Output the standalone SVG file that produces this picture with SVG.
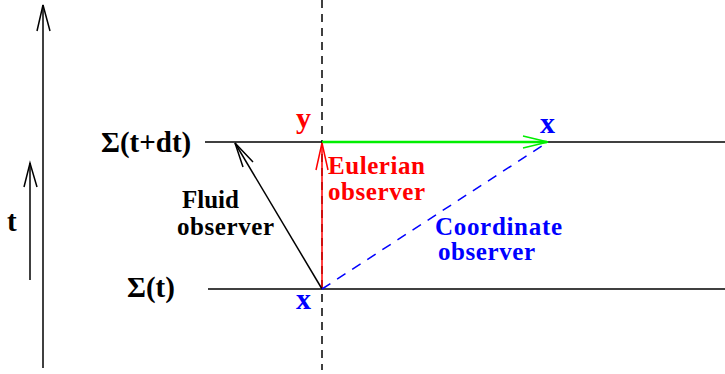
<svg xmlns="http://www.w3.org/2000/svg" width="725" height="374" viewBox="0 0 725 374">
<style>
text{font-family:"Liberation Serif","Times New Roman",serif;font-weight:bold;}
.big{font-size:29px;}
.lbl{font-size:25px;}
.xy{font-size:30px;}
.ln{fill:none;stroke-width:1.5;}
</style>
<rect width="725" height="374" fill="#fff"/>
<g id="connectors">
<line class="ln" x1="43" y1="368" x2="43" y2="5" stroke="#000"/>
<polyline class="ln" points="37,31 43,5 50,31" stroke="#000"/>
<line class="ln" x1="30" y1="280" x2="30" y2="163" stroke="#000"/>
<polyline class="ln" points="24,187 30,163 37,187" stroke="#000"/>
<line x1="322" y1="0" x2="322" y2="370" stroke="#000" stroke-width="1.5" stroke-dasharray="8,6"/>
<line class="ln" x1="205" y1="142" x2="725" y2="142" stroke="#000"/>
<line class="ln" x1="208" y1="289" x2="725" y2="289" stroke="#000"/>
<line x1="322" y1="142" x2="547" y2="142" stroke="#00ee00" stroke-width="2.5"/>
<polyline class="ln" points="523,136 548,142 523,148" stroke="#00ee00"/>
<line class="ln" x1="322" y1="289" x2="322" y2="143" stroke="#f00"/>
<polyline class="ln" points="316,170 322,143 328,170" stroke="#f00"/>
<line class="ln" x1="322" y1="289" x2="235" y2="143" stroke="#000"/>
<polyline class="ln" points="253,162 235,143 243,167" stroke="#000"/>
<line x1="322" y1="289" x2="548" y2="142" stroke="#00f" stroke-width="1.5" stroke-dasharray="10,8"/>
</g>
<g id="time"><text class="big" x="7" y="231">t</text></g>
<g id="sigma-tdt"><text class="big" x="101" y="152">Σ(t+dt)</text></g>
<g id="sigma-t"><text class="big" x="127" y="297">Σ(t)</text></g>
<g id="y"><text class="xy" x="296" y="128" fill="#f00">y</text></g>
<g id="x-top"><text class="xy" x="540" y="133" fill="#00f">x</text></g>
<g id="x-bottom"><text class="xy" x="296" y="309" fill="#00f">x</text></g>
<g id="eulerian" fill="#f00"><text class="lbl" x="328" y="174" textLength="97">Eulerian</text><text class="lbl" x="328" y="200" textLength="97">observer</text></g>
<g id="fluid" fill="#000"><text class="lbl" x="182" y="208">Fluid</text><text class="lbl" x="177" y="235" textLength="97">observer</text></g>
<g id="coordinate" fill="#00f"><text class="lbl" x="435" y="235" textLength="127">Coordinate</text><text class="lbl" x="438" y="260" textLength="97">observer</text></g>
</svg>
